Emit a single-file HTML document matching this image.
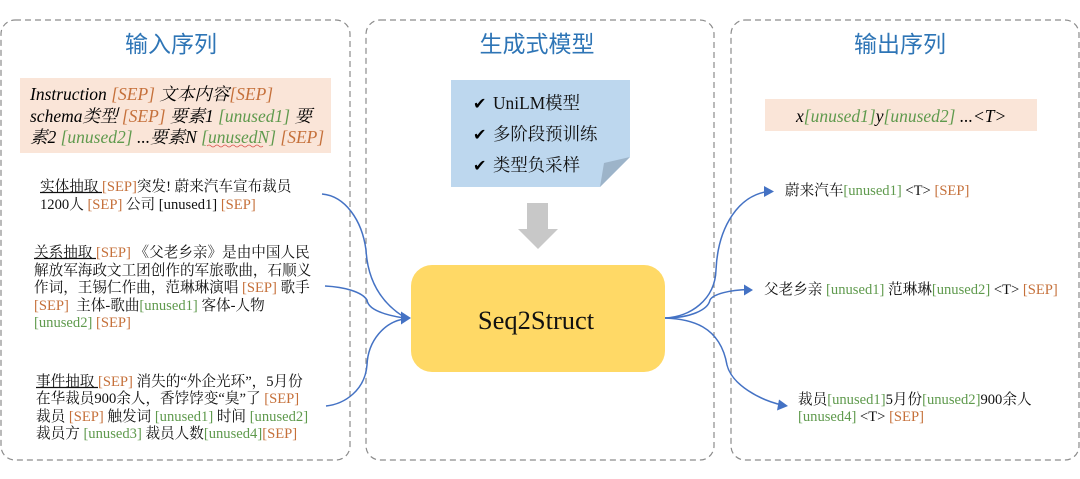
<!DOCTYPE html>
<html><head><meta charset="utf-8">
<style>
html,body{margin:0;padding:0;background:#fff;width:1080px;height:479px;overflow:hidden}
svg{display:block;filter:blur(0.35px)}
text{font-family:"Liberation Serif","Noto Serif CJK SC",serif;white-space:pre}
.b{font-size:14.6px;fill:#111}
.i{font-size:17.5px;font-style:italic;fill:#000}
.o{fill:#c5703a}
.g{fill:#5f9a4d}
.t{font-size:23px;fill:#2e75b6;text-anchor:middle;font-family:"Noto Sans CJK SC",sans-serif}
.n{font-size:17.4px;fill:#111}
.c{font-family:"DejaVu Sans",sans-serif;font-size:16px;fill:#000}
</style></head><body>
<svg width="1080" height="479" viewBox="0 0 1080 479" xmlns="http://www.w3.org/2000/svg">
<g fill="none" stroke="#8c8c8c" stroke-width="1.2" stroke-dasharray="6 4">
<rect x="1" y="20" width="349" height="440" rx="14"/>
<rect x="366" y="20" width="348" height="440" rx="14"/>
<rect x="731" y="20" width="348" height="440" rx="14"/>
</g>
<text class="t" x="171" y="52">输入序列</text>
<text class="t" x="537" y="52">生成式模型</text>
<text class="t" x="900" y="52">输出序列</text>

<rect x="20" y="78" width="311" height="75" fill="#fae5d8"/>
<text class="i" x="30" y="100">Instruction <tspan class="o">[SEP]</tspan> 文本内容<tspan class="o">[SEP]</tspan></text>
<text class="i" x="30" y="122">schema类型 <tspan class="o">[SEP]</tspan> 要素1 <tspan class="g">[unused1]</tspan> 要</text>
<text class="i" x="30" y="143">素2 <tspan class="g">[unused2]</tspan> ...要素N <tspan class="g">[unusedN]</tspan> <tspan class="o">[SEP]</tspan></text>
<path d="M207 146q2 -2 4 0t4 0t4 0t4 0t4 0t4 0t4 0t4 0t4 0t4 0t4 0t4 0t4 0t4 0" fill="none" stroke="#d9534f" stroke-width="0.8"/>

<text class="b" x="40" y="191">实体抽取 <tspan class="o">[SEP]</tspan>突发! 蔚来汽车宣布裁员</text>
<line x1="40" y1="192.500" x2="102" y2="192.500" stroke="#111" stroke-width="1.2"/>
<text class="b" x="40" y="209">1200人 <tspan class="o">[SEP]</tspan> 公司 [unused1] <tspan class="o">[SEP]</tspan></text>

<text class="b" x="34" y="257">关系抽取 <tspan class="o">[SEP]</tspan> 《父老乡亲》是由中国人民</text>
<line x1="34" y1="258.500" x2="96" y2="258.500" stroke="#111" stroke-width="1.2"/>
<text class="b" x="34" y="275">解放军海政文工团创作的军旅歌曲，石顺义</text>
<text class="b" x="34" y="292">作词，王锡仁作曲，范琳琳演唱 <tspan class="o">[SEP]</tspan> 歌手</text>
<text class="b" x="34" y="310"><tspan class="o">[SEP]</tspan>  主体-歌曲<tspan class="g">[unused1]</tspan> 客体-人物</text>
<text class="b" x="34" y="327"><tspan class="g">[unused2]</tspan> <tspan class="o">[SEP]</tspan></text>

<text class="b" x="36" y="386">事件抽取 <tspan class="o">[SEP]</tspan> 消失的“外企光环”，5月份</text>
<line x1="36" y1="387.500" x2="98" y2="387.500" stroke="#111" stroke-width="1.2"/>
<text class="b" x="36" y="403">在华裁员900余人，香饽饽变“臭”了 <tspan class="o">[SEP]</tspan></text>
<text class="b" x="36" y="421">裁员 <tspan class="o">[SEP]</tspan> 触发词 <tspan class="g">[unused1]</tspan> 时间 <tspan class="g">[unused2]</tspan></text>
<text class="b" x="36" y="438">裁员方 <tspan class="g">[unused3]</tspan> 裁员人数<tspan class="g">[unused4]</tspan><tspan class="o">[SEP]</tspan></text>

<path d="M451 80H630V157L600 187H451Z" fill="#bdd7ee"/>
<path d="M604 163L630 157L600 187Z" fill="#9db4c9"/>
<text class="c" x="473" y="109">✔</text>
<text class="c" x="473" y="140">✔</text>
<text class="c" x="473" y="171">✔</text>
<text class="n" x="493" y="109">UniLM模型</text>
<text class="n" x="493" y="140">多阶段预训练</text>
<text class="n" x="493" y="171">类型负采样</text>

<path d="M527 203H548V229H558L538 249L518 229H527Z" fill="#c8c8c8"/>
<rect x="411" y="265" width="254" height="107" rx="21" fill="#ffd966"/>
<text x="536" y="329" text-anchor="middle" style="font-size:26.500px;fill:#111">Seq2Struct</text>

<rect x="765" y="99" width="272" height="32" fill="#fae5d8"/>
<text class="i" x="796" y="122">x<tspan class="g">[unused1]</tspan>y<tspan class="g">[unused2]</tspan> ...&lt;T&gt;</text>

<text class="b" x="785" y="195">蔚来汽车<tspan class="g">[unused1]</tspan> &lt;T&gt; <tspan class="o">[SEP]</tspan></text>
<text class="b" x="764" y="294">父老乡亲 <tspan class="g">[unused1]</tspan> 范琳琳<tspan class="g">[unused2]</tspan> &lt;T&gt; <tspan class="o">[SEP]</tspan></text>
<text class="b" x="798" y="404">裁员<tspan class="g">[unused1]</tspan>5月份<tspan class="g">[unused2]</tspan>900余人</text>
<text class="b" x="798" y="421"><tspan class="g">[unused4]</tspan> &lt;T&gt; <tspan class="o">[SEP]</tspan></text>

<g fill="none" stroke="#4472c4" stroke-width="1.500">
<path d="M322 194C345 196 362 220 366 250C368 285 385 305 404 317"/>
<path d="M325 286C345 287 362 292 367 300C368 310 385 315 404 318"/>
<path d="M326 406C345 404 365 390 367 365C368 340 385 322 404 319"/>
<path d="M665 318C690 317 715 300 716 270C718 225 740 195 768 191.500"/>
<path d="M665 318C690 318 708 310 710 300C713 294 730 290 748 289.500"/>
<path d="M665 318C690 319 720 325 727 365C732 385 760 400 782 405"/>
</g>
<g fill="#4472c4">
<path d="M401 311.500L411 318L401 324.500Z"/>
<path d="M764 186L774 191.500L764 197Z"/>
<path d="M744 284.500L753 290L744 295.500Z"/>
<path d="M779 399.500L788 406L777 410.500Z"/>
</g>
</svg>
</body></html>
